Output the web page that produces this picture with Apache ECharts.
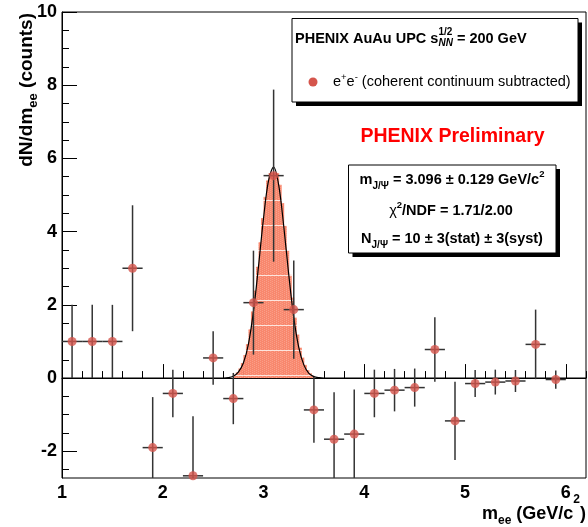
<!DOCTYPE html>
<html>
<head>
<meta charset="utf-8">
<script src="https://cdn.jsdelivr.net/npm/echarts@6/dist/echarts.min.js"></script>
<style>
  html, body { margin: 0; padding: 0; background: #fff; }
  #main { width: 588px; height: 527px; }
</style>
</head>
<body>
<div id="main"></div>
<script>
// data
const binCenters = [1.1, 1.3, 1.5, 1.7, 1.9, 2.1, 2.3, 2.5, 2.7, 2.9, 3.1, 3.3, 3.5,
  3.7, 3.9, 4.1, 4.3, 4.5, 4.7, 4.9, 5.1, 5.3, 5.5, 5.7, 5.9]
const counts = [1.0, 1.0, 1.0, 3.0, -1.9, -0.42, -2.67, 0.55, -0.56, 2.06, 5.53, 1.87, -0.87,
  -1.67, -1.53, -0.42, -0.33, -0.26, 0.78, -1.17, -0.15, -0.11, -0.08, 0.92, -0.04]
const errors = [1.0, 1.0, 1.0, 1.72, 1.38, 0.65, 1.63, 0.73, 0.7, 1.42, 2.35, 1.34, 0.9,
  1.28, 1.22, 0.65, 0.58, 0.52, 0.88, 1.07, 0.37, 0.34, 0.3, 0.95, 0.25]
const binHalf = 0.1

// fitted curve, read at a few x positions
const fitX = [1.0, 2.4, 2.5, 2.6, 2.65, 2.7, 2.75, 2.8, 2.85, 2.9, 2.95, 3.0, 3.05, 3.1, 3.15, 3.2,
  3.25, 3.3, 3.35, 3.4, 3.45, 3.5, 3.55, 3.6, 3.7, 3.8, 6.2]
const fitY = [0, 0, 0, 0, 0.01, 0.05, 0.16, 0.41, 0.93, 1.82, 3.05, 4.37, 5.40, 5.76, 5.28, 4.16,
  2.83, 1.65, 0.83, 0.36, 0.13, 0.04, 0.01, 0, 0, 0, 0]

// filled signal histogram (fine bins)
const fillX = [2.7125, 2.7375, 2.7625, 2.7875, 2.8125, 2.8375, 2.8625, 2.8875, 2.9125, 2.9375,
  2.9625, 2.9875, 3.0125, 3.0375, 3.0625, 3.0875, 3.1125, 3.1375, 3.1625, 3.1875, 3.2125,
  3.2375, 3.2625, 3.2875, 3.3125, 3.3375, 3.3625, 3.3875, 3.4125, 3.4375, 3.4625, 3.4875]
const fillY = [0.09, 0.16, 0.26, 0.41, 0.63, 0.93, 1.33, 1.82, 2.39, 3.04,
  3.71, 4.37, 4.95, 5.40, 5.6, 5.6, 5.6, 5.6, 5.28, 4.78, 4.16,
  3.49, 2.82, 2.20, 1.65, 1.19, 0.83, 0.56, 0.36, 0.22, 0.13, 0.08]
const fillHalf = 0.0125

// axis ticks
const xMajor = [1, 2, 3, 4, 5, 6]
const xMinor = [1.2, 1.4, 1.6, 1.8, 2.2, 2.4, 2.6, 2.8, 3.2, 3.4, 3.6, 3.8, 4.2, 4.4, 4.6, 4.8,
  5.2, 5.4, 5.6, 5.8, 6.2]
const yMajor = [-2, 0, 2, 4, 6, 8, 10]
const yMinor = [-2.5, -1.5, -1, -0.5, 0.5, 1, 1.5, 2.5, 3, 3.5, 4.5, 5, 5.5, 6.5, 7, 7.5,
  8.5, 9, 9.5]

const FONT = '"Liberation Sans", Arial, sans-serif'
const markerColor = '#d5554c'

// hatch-like pattern for the filled peak
const pat = document.createElement('canvas')
pat.width = 4
pat.height = 25
const pg = pat.getContext('2d')
pg.fillStyle = '#f8876d'
pg.fillRect(0, 0, 4, 25)
pg.fillStyle = '#fa9e88'
for (let yy = 0; yy < 25; yy++) pg.fillRect((yy % 2) * 2, yy, 1, 1)
pg.fillStyle = '#fde4dc'
pg.fillRect(0, 0, 4, 1)

// text helpers
const mctx = document.createElement('canvas').getContext('2d')
function fontOf(p) {
  return (p.it ? 'italic ' : '') + (p.n ? '' : 'bold ') + p.s + 'px ' + FONT
}
function textW(p) {
  mctx.font = fontOf(p)
  return mctx.measureText(p.t).width
}
function runText(pieces, x0, y0, color) {
  const els = []
  let x = x0
  pieces.forEach(p => {
    els.push({
      type: 'text', x: x, y: y0 + (p.dy || 0),
      style: {
        text: p.t, font: fontOf(p), fill: color || '#000',
        textAlign: 'left', textVerticalAlign: 'middle', align: 'left', verticalAlign: 'middle'
      }
    })
    if (!p.stay) x += textW(p)
  })
  return { els: els, w: x - x0 }
}
function centered(pieces, cx, y0) {
  const w = runText(pieces, 0, 0).w
  return runText(pieces, cx - w / 2, y0).els
}
function boxWithShadow(x, y, w, h) {
  return [
    { type: 'rect', shape: { x: x + 4, y: y + 4, width: w, height: h }, style: { fill: '#000' } },
    { type: 'rect', shape: { x: x, y: y, width: w, height: h }, style: { fill: '#fff', stroke: '#000', lineWidth: 1 } }
  ]
}

let graphics = []
graphics = graphics.concat(boxWithShadow(292, 18.5, 286, 83.5))
graphics = graphics.concat(runText([
  { t: 'PHENIX AuAu UPC s', s: 14.5 },
  { t: '1/2', s: 10, dy: -6, stay: true },
  { t: 'NN', s: 10, it: true, dy: 4.5 },
  { t: ' = 200 GeV', s: 14.5 }
], 295, 38.5).els)
graphics.push({ type: 'circle', shape: { cx: 313, cy: 82, r: 4.5 }, style: { fill: markerColor } })
graphics = graphics.concat(runText([
  { t: 'e', s: 14.5, n: true },
  { t: '+', s: 9.5, n: true, dy: -5 },
  { t: 'e', s: 14.5, n: true },
  { t: '-', s: 9.5, n: true, dy: -5 },
  { t: ' (coherent continuum subtracted)', s: 14.5, n: true }
], 333, 82).els)

graphics.push({
  type: 'text', x: 452.5, y: 136.5,
  style: { text: 'PHENIX Preliminary', font: 'bold 19.5px ' + FONT, fill: '#ff0000',
    textAlign: 'center', textVerticalAlign: 'middle', align: 'center', verticalAlign: 'middle' }
})

graphics = graphics.concat(boxWithShadow(348.5, 165, 207.5, 88))
graphics = graphics.concat(centered([
  { t: 'm', s: 14.5 },
  { t: 'J/Ψ', s: 10, dy: 6 },
  { t: ' = 3.096 ± 0.129 GeV/c', s: 14.5 },
  { t: '2', s: 9.5, dy: -6 }
], 452, 180))
graphics = graphics.concat(centered([
  { t: 'χ', s: 14.5, n: true },
  { t: '2', s: 9.5, dy: -6 },
  { t: '/NDF = 1.71/2.00', s: 14.5 }
], 451, 211))
graphics = graphics.concat(centered([
  { t: 'N', s: 14.5 },
  { t: 'J/Ψ', s: 10, dy: 6 },
  { t: ' = 10 ± 3(stat) ± 3(syst)', s: 14.5 }
], 452, 239))

// axis titles
const xTitle = [
  { t: 'm', s: 18 },
  { t: 'ee', s: 12, dy: 6.5 },
  { t: ' (GeV/c', s: 18 },
  { t: '2', s: 12, dy: -15 },
  { t: ')', s: 18 }
]
const xtw = runText(xTitle, 0, 0).w
graphics = graphics.concat(runText(xTitle, 586 - xtw, 514.5).els)

const yTitle = runText([
  { t: 'dN/dm', s: 19 },
  { t: 'ee', s: 13, dy: 6 },
  { t: ' (counts)', s: 19 }
], 0, -6)
graphics.push({ type: 'group', x: 33, y: 13 + yTitle.w, rotation: Math.PI / 2, children: yTitle.els })

const labelStyle = { color: '#000', fontFamily: FONT, fontWeight: 'bold', fontSize: 18 }

const myChart = echarts.init(document.getElementById('main'))

const opt = {
  animation: false,
  grid: { left: 62, right: 2, top: 12, bottom: 49, show: true, borderColor: '#000', borderWidth: 1 },
  xAxis: [{
    type: 'value', min: 1, max: 6.2,
    axisLine: { lineStyle: { color: '#000', width: 1 } },
    axisTick: { inside: true, length: 14, customValues: xMajor, lineStyle: { color: '#000' } },
    axisLabel: Object.assign({ customValues: xMajor, margin: 6 }, labelStyle),
    splitLine: { show: false }
  }, {
    type: 'value', min: 1, max: 6.2, position: 'bottom',
    axisLine: { show: false },
    axisTick: { inside: true, length: 7, customValues: xMinor, lineStyle: { color: '#000' } },
    axisLabel: { show: false },
    splitLine: { show: false }
  }],
  yAxis: [{
    type: 'value', min: -2.73, max: 10,
    axisLine: { show: true, lineStyle: { color: '#000', width: 1 } },
    axisTick: { show: true, inside: true, length: 15, customValues: yMajor, lineStyle: { color: '#000' } },
    axisLabel: Object.assign({ customValues: yMajor, margin: 5 }, labelStyle),
    splitLine: { show: false }
  }, {
    type: 'value', min: -2.73, max: 10, position: 'left',
    axisLine: { show: false },
    axisTick: { show: true, inside: true, length: 7, customValues: yMinor, lineStyle: { color: '#000' } },
    axisLabel: { show: false },
    splitLine: { show: false }
  }],
  graphic: graphics.map(g => Object.assign({ z: 100 }, g)),
  series: [{
    // filled signal
    type: 'custom',
    z: 1,
    data: fillX.map((x, i) => [x, fillY[i]]),
    renderItem: function (params, api) {
      const a = api.coord([api.value(0) - fillHalf, api.value(1)])
      const b = api.coord([api.value(0) + fillHalf, 0])
      return {
        type: 'rect',
        shape: { x: a[0], y: a[1], width: b[0] - a[0] + 0.5, height: b[1] - a[1] },
        style: { fill: { image: pat, repeat: 'repeat' } }
      }
    }
  }, {
    // gaussian fit
    type: 'line',
    z: 2,
    data: fitX.map((x, i) => [x, fitY[i]]),
    symbol: 'none',
    smooth: 0.35,
    lineStyle: { color: '#000', width: 1.2 }
  }, {
    // error bars
    type: 'custom',
    z: 3,
    data: binCenters.map((x, i) => [x, counts[i], errors[i]]),
    renderItem: function (params, api) {
      const x = api.value(0), y = api.value(1), e = api.value(2)
      const cs = params.coordSys
      const clampY = v => Math.min(Math.max(v, cs.y), cs.y + cs.height)
      const p = api.coord([x, y])
      const top = api.coord([x, y + e])
      const bot = api.coord([x, y - e])
      const l = api.coord([x - binHalf, y])
      const r = api.coord([x + binHalf, y])
      const st = { stroke: '#333', lineWidth: 1.5 }
      return {
        type: 'group',
        children: [
          { type: 'line', shape: { x1: p[0], y1: clampY(top[1]), x2: p[0], y2: clampY(bot[1]) }, style: st },
          { type: 'line', shape: { x1: l[0], y1: p[1], x2: r[0], y2: p[1] }, style: st }
        ]
      }
    }
  }, {
    type: 'scatter',
    z: 4,
    data: binCenters.map((x, i) => [x, counts[i]]),
    symbol: 'circle',
    symbolSize: 9,
    itemStyle: { color: markerColor }
  }]
}

myChart.setOption(opt)
</script>
</body>
</html>
